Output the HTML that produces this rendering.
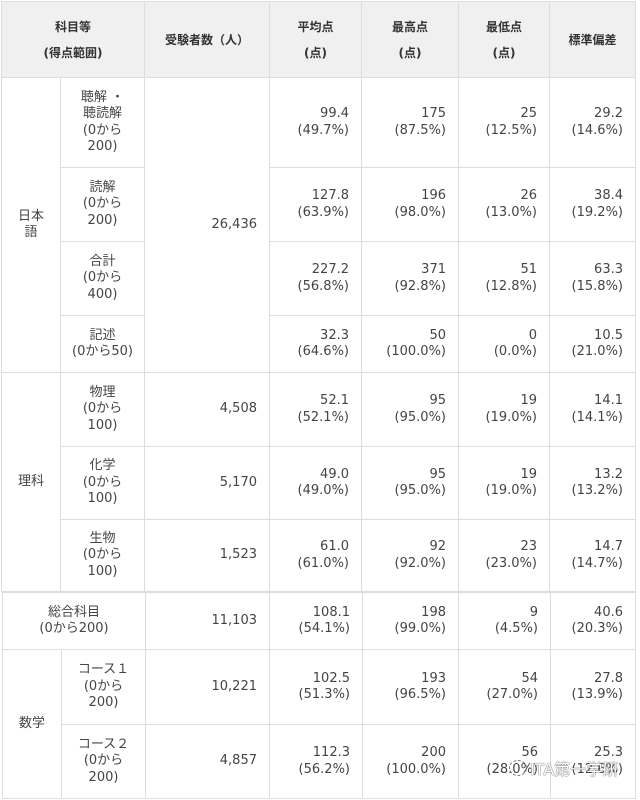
<!DOCTYPE html>
<html><head><meta charset="utf-8"><style>
html,body{margin:0;padding:0;background:#fff;width:640px;height:800px;overflow:hidden;position:relative}
.c{position:absolute;box-sizing:border-box;border:1px solid #ddd;display:flex;align-items:center;font-family:"DejaVu Sans","Noto Sans CJK JP",sans-serif;font-size:13px;line-height:16.5px;color:#444;background:#fff}
.m{justify-content:center;text-align:center}
.r{justify-content:flex-end;text-align:right;padding-right:12px}
.h{background:#f0f0f0;font-weight:bold;font-size:12px;line-height:26px;color:#333;justify-content:center;text-align:center}
.wm{position:absolute;left:509px;top:756px;font-family:"DejaVu Sans","Noto Sans CJK JP",sans-serif;font-size:16px;color:#fff;text-shadow:0 0 1px #444,0 0 1px #444;white-space:nowrap;display:flex;align-items:center}
.wm i{display:inline-block;width:16px;height:14px;border:1px dashed #777;border-radius:50%;margin-right:3px}
</style></head><body>
<!-- header -->
<div class="c h" style="left:1px;top:1px;width:144px;height:77px">科目等<br>(得点範囲)</div>
<div class="c h" style="left:144px;top:1px;width:126px;height:77px">受験者数（人）</div>
<div class="c h" style="left:269px;top:1px;width:93px;height:77px">平均点<br>(点)</div>
<div class="c h" style="left:361px;top:1px;width:98px;height:77px">最高点<br>(点)</div>
<div class="c h" style="left:458px;top:1px;width:92px;height:77px">最低点<br>(点)</div>
<div class="c h" style="left:549px;top:1px;width:87px;height:77px">標準偏差</div>

<!-- 日本語 -->
<div class="c m" style="left:1px;top:77px;width:60px;height:296px">日本<br>語</div>
<div class="c m" style="left:60px;top:77px;width:85px;height:91px">聴解 ・<br>聴読解<br>(0から<br>200)</div>
<div class="c m" style="left:60px;top:167px;width:85px;height:75px">読解<br>(0から<br>200)</div>
<div class="c m" style="left:60px;top:241px;width:85px;height:75px">合計<br>(0から<br>400)</div>
<div class="c m" style="left:60px;top:315px;width:85px;height:58px">記述<br>(0から50)</div>
<div class="c r" style="left:144px;top:77px;width:126px;height:296px">26,436</div>

<div class="c r" style="left:269px;top:77px;width:93px;height:91px">99.4<br>(49.7%)</div>
<div class="c r" style="left:361px;top:77px;width:98px;height:91px">175<br>(87.5%)</div>
<div class="c r" style="left:458px;top:77px;width:92px;height:91px">25<br>(12.5%)</div>
<div class="c r" style="left:549px;top:77px;width:87px;height:91px">29.2<br>(14.6%)</div>

<div class="c r" style="left:269px;top:167px;width:93px;height:75px">127.8<br>(63.9%)</div>
<div class="c r" style="left:361px;top:167px;width:98px;height:75px">196<br>(98.0%)</div>
<div class="c r" style="left:458px;top:167px;width:92px;height:75px">26<br>(13.0%)</div>
<div class="c r" style="left:549px;top:167px;width:87px;height:75px">38.4<br>(19.2%)</div>

<div class="c r" style="left:269px;top:241px;width:93px;height:75px">227.2<br>(56.8%)</div>
<div class="c r" style="left:361px;top:241px;width:98px;height:75px">371<br>(92.8%)</div>
<div class="c r" style="left:458px;top:241px;width:92px;height:75px">51<br>(12.8%)</div>
<div class="c r" style="left:549px;top:241px;width:87px;height:75px">63.3<br>(15.8%)</div>

<div class="c r" style="left:269px;top:315px;width:93px;height:58px">32.3<br>(64.6%)</div>
<div class="c r" style="left:361px;top:315px;width:98px;height:58px">50<br>(100.0%)</div>
<div class="c r" style="left:458px;top:315px;width:92px;height:58px">0<br>(0.0%)</div>
<div class="c r" style="left:549px;top:315px;width:87px;height:58px">10.5<br>(21.0%)</div>

<!-- 理科 -->
<div class="c m" style="left:1px;top:372px;width:60px;height:220px">理科</div>
<div class="c m" style="left:60px;top:372px;width:85px;height:75px">物理<br>(0から<br>100)</div>
<div class="c m" style="left:60px;top:446px;width:85px;height:74px">化学<br>(0から<br>100)</div>
<div class="c m" style="left:60px;top:519px;width:85px;height:73px">生物<br>(0から<br>100)</div>

<div class="c r" style="left:144px;top:372px;width:126px;height:75px">4,508</div>
<div class="c r" style="left:269px;top:372px;width:93px;height:75px">52.1<br>(52.1%)</div>
<div class="c r" style="left:361px;top:372px;width:98px;height:75px">95<br>(95.0%)</div>
<div class="c r" style="left:458px;top:372px;width:92px;height:75px">19<br>(19.0%)</div>
<div class="c r" style="left:549px;top:372px;width:87px;height:75px">14.1<br>(14.1%)</div>

<div class="c r" style="left:144px;top:446px;width:126px;height:74px">5,170</div>
<div class="c r" style="left:269px;top:446px;width:93px;height:74px">49.0<br>(49.0%)</div>
<div class="c r" style="left:361px;top:446px;width:98px;height:74px">95<br>(95.0%)</div>
<div class="c r" style="left:458px;top:446px;width:92px;height:74px">19<br>(19.0%)</div>
<div class="c r" style="left:549px;top:446px;width:87px;height:74px">13.2<br>(13.2%)</div>

<div class="c r" style="left:144px;top:519px;width:126px;height:73px">1,523</div>
<div class="c r" style="left:269px;top:519px;width:93px;height:73px">61.0<br>(61.0%)</div>
<div class="c r" style="left:361px;top:519px;width:98px;height:73px">92<br>(92.0%)</div>
<div class="c r" style="left:458px;top:519px;width:92px;height:73px">23<br>(23.0%)</div>
<div class="c r" style="left:549px;top:519px;width:87px;height:73px">14.7<br>(14.7%)</div>

<!-- lower table -->
<div class="c m" style="left:2px;top:592px;width:144px;height:58px">総合科目<br>(0から200)</div>
<div class="c r" style="left:145px;top:592px;width:125px;height:58px">11,103</div>
<div class="c r" style="left:269px;top:592px;width:94px;height:58px">108.1<br>(54.1%)</div>
<div class="c r" style="left:362px;top:592px;width:97px;height:58px">198<br>(99.0%)</div>
<div class="c r" style="left:458px;top:592px;width:93px;height:58px">9<br>(4.5%)</div>
<div class="c r" style="left:550px;top:592px;width:86px;height:58px">40.6<br>(20.3%)</div>

<div class="c m" style="left:2px;top:649px;width:60px;height:150px">数学</div>
<div class="c m" style="left:61px;top:649px;width:85px;height:76px">コース１<br>(0から<br>200)</div>
<div class="c m" style="left:61px;top:724px;width:85px;height:75px">コース２<br>(0から<br>200)</div>

<div class="c r" style="left:145px;top:649px;width:125px;height:76px">10,221</div>
<div class="c r" style="left:269px;top:649px;width:94px;height:76px">102.5<br>(51.3%)</div>
<div class="c r" style="left:362px;top:649px;width:97px;height:76px">193<br>(96.5%)</div>
<div class="c r" style="left:458px;top:649px;width:93px;height:76px">54<br>(27.0%)</div>
<div class="c r" style="left:550px;top:649px;width:86px;height:76px">27.8<br>(13.9%)</div>

<div class="c r" style="left:145px;top:724px;width:125px;height:75px">4,857</div>
<div class="c r" style="left:269px;top:724px;width:94px;height:75px">112.3<br>(56.2%)</div>
<div class="c r" style="left:362px;top:724px;width:97px;height:75px">200<br>(100.0%)</div>
<div class="c r" style="left:458px;top:724px;width:93px;height:75px">56<br>(28.0%)</div>
<div class="c r" style="left:550px;top:724px;width:86px;height:75px">25.3<br>(12.6%)</div>

<div class="wm"><i></i>ITA第一学研</div>
</body></html>
